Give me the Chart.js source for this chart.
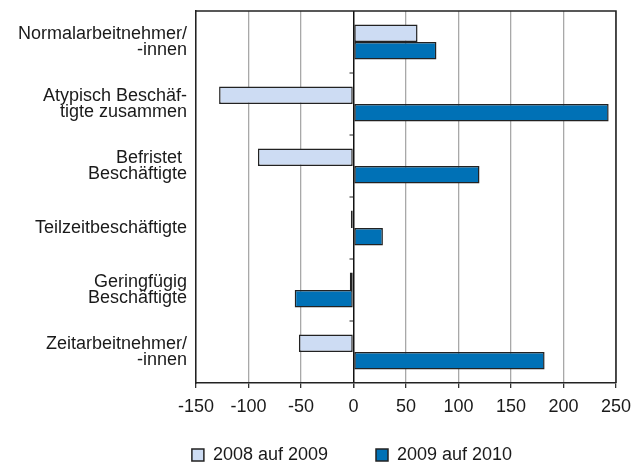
<!DOCTYPE html>
<html>
<head>
<meta charset="utf-8">
<script src="https://cdn.jsdelivr.net/npm/chart.js@4/dist/chart.umd.min.js"></script>
<style>
  html, body { margin: 0; padding: 0; background: #fff; }
  #wrap { width: 642px; height: 463px; }
</style>
</head>
<body>
<div id="wrap"><canvas id="c" width="642" height="463"></canvas></div>
<script>
const categories = [
  ["Normalarbeitnehmer/", "-innen"],
  ["Atypisch Beschäf-", "tigte zusammen"],
  ["Befristet ", "Beschäftigte"],
  ["Teilzeitbeschäftigte"],
  ["Geringfügig", "Beschäftigte"],
  ["Zeitarbeitnehmer/", "-innen"]
];
const seriesNames = ["2008 auf 2009", "2009 auf 2010"];
const values2008to2009 = [61, -128, -91, -2.5, -3.5, -52];
const values2009to2010 = [79, 243, 120, 28, -56, 182];
const xTicks = [-150, -100, -50, 0, 50, 100, 150, 200, 250];

const FONT = "'Liberation Sans', Arial, Helvetica, sans-serif";
const TEXT = '#1a1a1a';

const frame = {
  id: 'frame',
  afterLayout(chart) {
    const lg = chart.legend;
    if (lg) { lg.left = 88; lg.top = 398; }
  },
  afterDatasetsDraw(chart) {
    const {ctx, chartArea: a, scales: {x, y}} = chart;
    ctx.save();
    ctx.strokeStyle = '#222';
    ctx.lineWidth = 1.5;
    ctx.beginPath();
    ctx.moveTo(a.left, a.top);
    ctx.lineTo(a.right, a.top);
    ctx.lineTo(a.right, a.bottom);
    ctx.stroke();
    // small category ticks on the zero axis
    const zx = x.getPixelForValue(0);
    ctx.lineWidth = 1;
    ctx.beginPath();
    for (let i = 1; i < categories.length; i++) {
      const py = (y.getPixelForValue(i - 1) + y.getPixelForValue(i)) / 2;
      ctx.moveTo(zx - 4, py);
      ctx.lineTo(zx, py);
    }
    ctx.stroke();
    ctx.restore();
  }
};

new Chart(document.getElementById('c'), {
  type: 'bar',
  data: {
    labels: categories,
    datasets: [
      {
        label: seriesNames[0],
        data: values2008to2009,
        backgroundColor: '#cddcf3',
        borderColor: '#222',
        borderWidth: 1.5,
        borderSkipped: false,
        categoryPercentage: 0.565,
        barPercentage: 1.0
      },
      {
        label: seriesNames[1],
        data: values2009to2010,
        backgroundColor: '#0071b6',
        borderColor: '#222',
        borderWidth: 1.5,
        borderSkipped: false,
        categoryPercentage: 0.565,
        barPercentage: 1.0
      }
    ]
  },
  options: {
    indexAxis: 'y',
    responsive: false,
    animation: false,
    devicePixelRatio: 1,
    layout: { padding: { left: 0, right: 26, top: 11, bottom: 0 } },
    plugins: {
      tooltip: { enabled: false },
      legend: {
        position: 'bottom',
        maxHeight: 40,
        labels: {
          boxWidth: 12,
          boxHeight: 12,
          padding: 48,
          color: TEXT,
          font: { family: FONT, size: 18 }
        }
      }
    },
    scales: {
      x: {
        min: xTicks[0],
        max: xTicks[xTicks.length - 1],
        afterBuildTicks(scale) { scale.ticks = xTicks.map(v => ({ value: v })); },
        afterFit(scale) { scale.height = 40; scale.paddingLeft = 0; scale.paddingRight = 0; },
        grid: {
          color: ctx => (ctx.tick && ctx.tick.value === 0) ? '#111' : '#a8a8a8',
          lineWidth: ctx => (ctx.tick && ctx.tick.value === 0) ? 1.5 : 1.3,
          tickColor: '#333',
          tickLength: 5,
          drawTicks: true
        },
        border: { display: true, color: '#222', width: 1.5 },
        ticks: {
          color: TEXT,
          padding: 8,
          font: { family: FONT, size: 18 },
          callback: v => String(v)
        }
      },
      y: {
        afterFit(scale) { scale.width = 196; scale.paddingTop = 0; scale.paddingBottom = 0; },
        grid: { display: false, drawTicks: false },
        border: { display: true, color: '#222', width: 1.5 },
        ticks: {
          color: TEXT,
          padding: 9,
          font: { family: FONT, size: 18, lineHeight: 0.92 }
        }
      }
    }
  },
  plugins: [frame]
});
</script>
</body>
</html>
